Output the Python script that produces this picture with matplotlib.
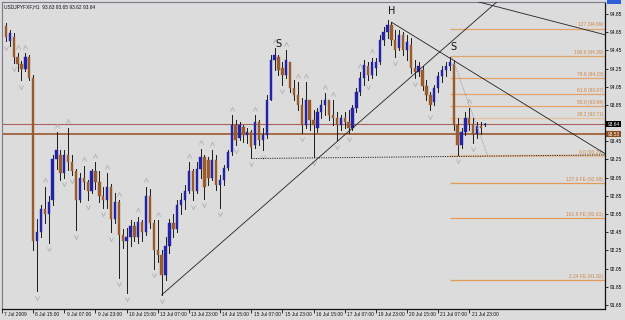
import matplotlib
matplotlib.use("Agg")
import matplotlib.pyplot as plt
from matplotlib.patches import Rectangle

# USDJPY H1, one candle per 2 hours
opens = [94.72, 94.55, 94.60, 94.38, 94.30, 94.25, 94.38, 94.15, 92.35, 92.45,
         92.70, 92.65, 92.80, 93.25, 93.30, 93.10, 93.30, 93.22, 93.12, 92.80,
         93.05, 93.00, 92.90, 93.12, 93.00, 92.85, 92.80, 92.95, 92.60, 92.78,
         92.42, 92.35, 92.40, 92.52, 92.40, 92.56, 92.45, 92.85, 92.55, 92.25,
         92.20, 91.98, 92.30, 92.55, 92.48, 92.75, 92.80, 92.90, 93.12, 92.90,
         93.15, 93.28, 93.24, 93.05, 93.24, 92.97, 93.02, 93.16, 93.33, 93.63,
         93.49, 93.61, 93.52, 93.55, 93.41, 93.66, 93.46, 93.52, 93.90, 94.34,
         94.38, 94.26, 94.18, 94.32, 94.04, 93.96, 93.85, 93.63, 93.90, 93.68,
         93.60, 93.77, 93.85, 93.90, 93.74, 93.71, 93.63, 93.71, 93.66, 93.60,
         93.82, 93.99, 94.15, 94.28, 94.18, 94.26, 94.32, 94.56, 94.65, 94.73,
         94.56, 94.48, 94.62, 94.45, 94.51, 94.26, 94.21, 94.23, 94.06, 93.96,
         93.88, 94.04, 94.17, 94.23, 94.28, 94.30, 93.63, 93.41, 93.55, 93.71,
         93.64, 93.53, 93.62, 93.63]
highs = [94.75, 94.67, 94.64, 94.42, 94.33, 94.42, 94.40, 94.18, 92.60, 92.75,
         92.95, 92.85, 93.30, 93.55, 93.35, 93.35, 93.60, 93.30, 93.15, 93.10,
         93.18, 93.02, 93.15, 93.22, 93.12, 92.95, 93.10, 92.98, 92.88, 92.80,
         92.48, 92.50, 92.58, 92.56, 92.62, 92.58, 92.95, 92.92, 92.58, 92.58,
         92.25, 92.40, 92.60, 92.65, 92.80, 92.88, 92.97, 93.22, 93.15, 93.22,
         93.37, 93.30, 93.28, 93.35, 93.30, 93.08, 93.19, 93.35, 93.74, 93.68,
         93.66, 93.63, 93.60, 93.57, 93.74, 93.68, 93.60, 93.96, 94.40, 94.48,
         94.40, 94.32, 94.45, 94.32, 94.12, 94.10, 93.93, 94.10, 93.90, 93.79,
         93.82, 93.90, 93.98, 93.90, 93.90, 93.77, 93.74, 93.77, 93.79, 93.85,
         94.04, 94.21, 94.34, 94.32, 94.37, 94.37, 94.62, 94.71, 94.78, 94.76,
         94.67, 94.67, 94.65, 94.62, 94.59, 94.34, 94.32, 94.28, 94.12, 93.99,
         94.07, 94.21, 94.28, 94.32, 94.38, 94.34, 93.71, 93.60, 93.77, 93.82,
         93.71, 93.66, 93.66, 93.65]
lows = [94.55, 94.50, 94.31, 94.22, 94.12, 94.22, 94.12, 92.25, 91.80, 92.40,
        92.55, 92.33, 92.75, 93.15, 93.02, 93.05, 93.13, 93.08, 92.47, 92.78,
        92.92, 92.80, 92.88, 92.92, 92.78, 92.72, 92.72, 92.45, 92.55, 91.95,
        92.28, 91.78, 92.30, 92.35, 92.33, 92.35, 92.42, 92.50, 92.05, 92.12,
        91.76, 91.92, 92.22, 92.40, 92.45, 92.65, 92.70, 92.88, 92.80, 92.88,
        93.05, 92.82, 92.97, 93.02, 92.91, 92.72, 92.97, 93.13, 93.30, 93.41,
        93.46, 93.44, 93.43, 93.27, 93.38, 93.41, 93.35, 93.49, 93.90, 94.23,
        94.18, 94.07, 94.15, 93.99, 93.90, 93.79, 93.54, 93.60, 93.57, 93.28,
        93.55, 93.71, 93.74, 93.68, 93.63, 93.46, 93.57, 93.60, 93.54, 93.57,
        93.77, 93.96, 94.07, 94.12, 94.15, 94.18, 94.30, 94.51, 94.59, 94.51,
        94.38, 94.45, 94.40, 94.34, 94.20, 94.15, 94.17, 94.01, 93.90, 93.79,
        93.85, 93.99, 94.10, 94.17, 94.23, 93.57, 93.30, 93.38, 93.52, 93.57,
        93.43, 93.49, 93.53, 93.62]
closes = [94.60, 94.64, 94.38, 94.30, 94.25, 94.38, 94.15, 92.35, 92.45, 92.70,
          92.65, 92.78, 93.25, 93.35, 93.10, 93.30, 93.22, 93.12, 92.80, 93.05,
          93.00, 92.90, 93.12, 93.00, 92.85, 92.80, 92.95, 92.60, 92.78, 92.42,
          92.35, 92.40, 92.52, 92.40, 92.56, 92.45, 92.85, 92.55, 92.25, 92.20,
          91.98, 92.30, 92.55, 92.48, 92.75, 92.80, 92.90, 93.12, 92.90, 93.15,
          93.28, 92.95, 93.05, 93.24, 92.97, 93.02, 93.16, 93.33, 93.63, 93.46,
          93.63, 93.52, 93.55, 93.39, 93.66, 93.46, 93.52, 93.90, 94.34, 94.40,
          94.23, 94.18, 94.34, 94.04, 93.96, 93.85, 93.63, 93.90, 93.68, 93.63,
          93.77, 93.85, 93.90, 93.74, 93.71, 93.63, 93.71, 93.66, 93.60, 93.82,
          93.99, 94.15, 94.29, 94.18, 94.32, 94.32, 94.56, 94.65, 94.73, 94.56,
          94.45, 94.62, 94.45, 94.54, 94.26, 94.21, 94.28, 94.06, 93.96, 93.85,
          94.04, 94.17, 94.23, 94.28, 94.32, 93.63, 93.41, 93.55, 93.71, 93.64,
          93.53, 93.62, 93.60, 93.64]

# bar indices carrying fractal arrows
fractal_up = [3, 5, 10, 13, 16, 20, 23, 26, 29, 34, 36, 39, 47, 50, 53, 58, 64,
              69, 72, 75, 77, 82, 84, 91, 94, 119]
fractal_down = [0, 2, 4, 8, 11, 15, 17, 18, 21, 25, 27, 29, 31, 38, 40, 48, 51,
                55, 59, 63, 66, 71, 76, 79, 85, 88, 93, 100, 105, 109, 116, 120]

time_labels = ["7 Jul 2009", "8 Jul 15:00", "9 Jul 07:00", "9 Jul 23:00",
               "10 Jul 15:00", "13 Jul 07:00", "13 Jul 23:00", "14 Jul 15:00",
               "15 Jul 07:00", "15 Jul 23:00", "16 Jul 15:00", "17 Jul 07:00",
               "19 Jul 23:00", "20 Jul 15:00", "21 Jul 07:00", "21 Jul 23:00"]
price_ticks = [94.85, 94.65, 94.45, 94.25, 94.05, 93.85, 93.45, 93.25, 93.05,
               92.85, 92.65, 92.45, 92.25, 92.05, 91.85, 91.65]

fib_levels = [94.69, 94.39, 94.15, 93.97, 93.84, 93.71, 93.29, 92.99, 92.61, 91.92]
fib_labels = ["127 (94.69)", "100.0 (94.39)", "78.6 (94.15)", "61.8 (93.97)",
              "50.0 (93.84)", "38.2 (93.71)", "0.0 (93.29)", "127.0 FE (92.99)",
              "161.8 FE (92.61)", "2.24 FE (91.92)"]

# trend lines as (bar, price) pairs
trend_up = [(40, 91.76), (126, 94.98)]
trend_head = [(99, 94.76), (154, 93.31)]
trend_top = [(118, 95.02), (154, 94.62)]
neckline = [(63, 93.26), (154, 93.30)]
zigzag = [(114.6, 94.37), (123.8, 93.28)]

pattern_text = ["S", "H", "S"]
pattern_bar = [70, 99, 115]
pattern_price = [94.47, 94.83, 94.43]

bid = 93.64
hline_price = 93.53

BG = "#dcdcdc"
BULL = "#2323a8"
BEAR = "#9a5a2a"
FIB = "#e3a46c"
FE = "#e39a58"
plt.rcParams["font.family"] = ["Liberation Sans", "DejaVu Sans"]
FS = 3.5

fig = plt.figure(figsize=(6.25, 3.2), dpi=100, facecolor=BG)
ax = fig.add_axes([2 / 625, 11 / 320, 603 / 625, 307 / 320])
ax.set_facecolor(BG)
ax.set_xlim(-0.77, 153.85)
ax.set_ylim(91.605, 94.982)

# horizontal price lines
ax.axhline(bid, color="#a8645c", lw=0.8, zorder=1)
ax.axhline(hline_price, color="#9c5a2c", lw=1.2, zorder=1)

# fibo levels
for lvl, lab in zip(fib_levels, fib_labels):
    col = FE if "FE" in lab else FIB
    lw = 1.6 if lab.startswith("0.0") else 0.9
    if lab.startswith("0.0") or lab.startswith("38.2"):
        col = "#e8c09c"
    ax.plot([114.1, 153.85], [lvl, lvl], color=col, lw=lw, zorder=1,
            solid_capstyle="butt")
    ax.text(153.4, lvl + 0.012, lab, color="#cf8444", fontsize=FS,
            ha="right", va="bottom", zorder=2)

# candles
for i in range(len(opens)):
    o, h, l, c = opens[i], highs[i], lows[i], closes[i]
    ax.plot([i, i], [l, h], color="#1a1a1a", lw=0.7, zorder=3)
    col = BULL if c >= o else BEAR
    bot = min(o, c)
    hgt = max(abs(c - o), 0.012)
    ax.add_patch(Rectangle((i - 0.3, bot), 0.6, hgt, facecolor=col,
                           edgecolor=col, lw=0.3, zorder=4))

# fractals
up_marker = [(-1, -1), (0, 1), (1, -1)]
dn_marker = [(-1, 1), (0, -1), (1, 1)]
ax.plot(fractal_up, [highs[i] + 0.07 for i in fractal_up], ls="none",
        marker=up_marker, ms=3.0, mfc="none", mec="#b0b0b0", mew=0.6, zorder=2)
ax.plot(fractal_down, [lows[i] - 0.07 for i in fractal_down], ls="none",
        marker=dn_marker, ms=3.0, mfc="none", mec="#b0b0b0", mew=0.6, zorder=2)

# trend lines
for seg in (trend_up, trend_head, trend_top):
    ax.plot([seg[0][0], seg[1][0]], [seg[0][1], seg[1][1]], color="#202020",
            lw=0.6, zorder=5)
ax.plot([neckline[0][0], neckline[1][0]], [neckline[0][1], neckline[1][1]],
        color="#202020", lw=0.7, ls=(0, (1.2, 1.2)), zorder=5)
ax.plot([zigzag[0][0], zigzag[1][0]], [zigzag[0][1], zigzag[1][1]],
        color="#9a9a9a", lw=0.7, ls=(0, (1.2, 1.2)), zorder=5)

for t, b, p in zip(pattern_text, pattern_bar, pattern_price):
    ax.text(b, p, t, fontsize=7, family="DejaVu Sans", ha="center",
            va="bottom", color="#111111", zorder=6)

ax.text(0.003, 0.993, "USDJPYFXF,H1  93.63 93.65 93.62 93.64",
        transform=ax.transAxes, fontsize=FS, va="top", ha="left",
        color="#111111")

# axes frame
for side in ("top", "left"):
    ax.spines[side].set_color("#7a7a8a")
    ax.spines[side].set_linewidth(0.8)
for side in ("right", "bottom"):
    ax.spines[side].set_color("#111111")
    ax.spines[side].set_linewidth(0.9)

# bottom time axis
ax.set_xticks([-1 + 8 * k for k in range(len(time_labels))])
ax.set_xticklabels([])
ax.tick_params(axis="x", direction="out", length=3, width=0.6, color="#111111")
for k, lab in enumerate(time_labels):
    ax.text(-1 + 8 * k + 0.6, 91.605 - 0.055, lab, fontsize=FS,
            ha="left", va="center", color="#111111", clip_on=False)

# right price axis
ax.yaxis.tick_right()
ax.set_yticks(price_ticks)
ax.set_yticklabels([f"{p:.2f}" for p in price_ticks], fontsize=FS)
ax.tick_params(axis="y", direction="out", length=2.5, width=0.6, pad=1,
               color="#111111")

# current price tags
ax.text(1.004, bid, f"{bid:.2f}", transform=ax.get_yaxis_transform(),
        fontsize=FS, color="white", va="center", ha="left",
        bbox=dict(boxstyle="square,pad=0.2", fc="#000000", ec="none"),
        clip_on=False)
ax.text(1.004, hline_price, f"{hline_price:.2f}",
        transform=ax.get_yaxis_transform(), fontsize=FS,
        color="white", va="center", ha="left",
        bbox=dict(boxstyle="square,pad=0.2", fc="#8b4a1c", ec="none"),
        clip_on=False)
fig.patches.append(Rectangle((607 / 625, 316 / 320), 14 / 625, 4 / 320,
                             transform=fig.transFigure, facecolor="#2f5fd8",
                             edgecolor="none"))

fig.savefig("out.png", dpi=100, facecolor=BG)
